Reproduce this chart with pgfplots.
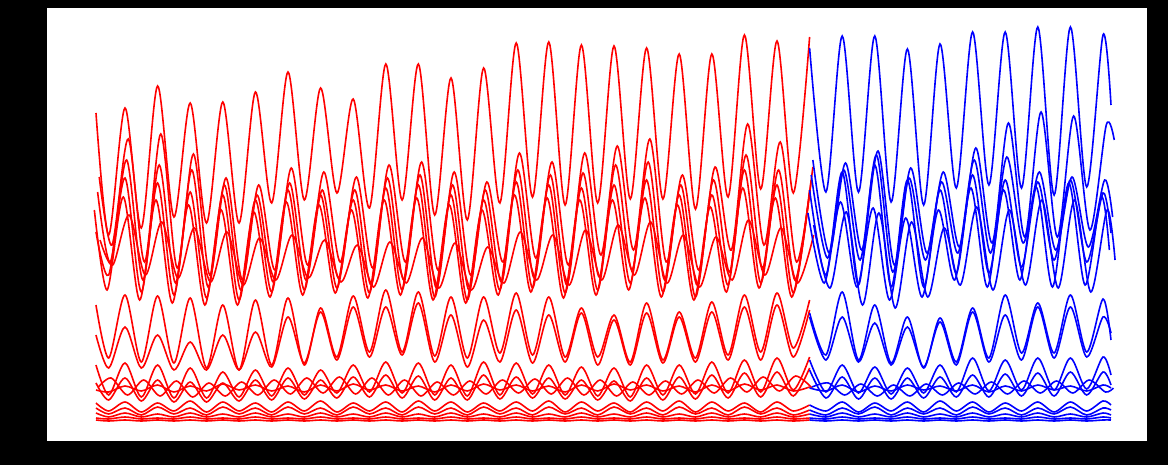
\documentclass[border=0pt]{standalone}
\usepackage{pgfplots}
\usepackage{pgfplotstable}
\pgfplotsset{compat=1.18}
\pgfplotstableread{
t A B C D E F G H I J K L M N O P Q
-0.78 113 177 192 232 210 240 305 335 365 383 387 390 403 408 413 418 420
0 235 245 262 275 290 265 358 368 395 400 378 392 411 414 417 419 421
1 108 139 160 178 197 215 295 327 363 378 395 386 402 408 413 417 420
2 228 262 280 292 300 275 362 368 397 401 380 391 412 415 417 419 421
3 86 134 165 183 200 222 296 335 365 380 396 385 403 407 414 418 420
4 217 268 283 295 303 278 363 370 398 402 381 392 411 414 417 419 421
5 103 154 170 192 205 228 298 342 368 382 397 386 401 408 413 417 420
6 223 275 287 298 305 282 368 370 398 402 383 391 412 415 417 419 421
7 102 178 185 195 210 232 305 335 372 383 396 384 402 407 414 418 420
8 223 280 290 300 305 285 370 370 397 401 382 390 411 414 417 419 421
9 92 185 195 200 212 238 300 332 370 380 395 385 403 408 413 417 420
10 203 270 282 292 297 280 365 367 396 400 380 391 412 415 417 419 421
11 72 168 183 190 202 235 298 317 368 378 394 386 402 407 414 418 420
12 200 265 280 290 295 278 365 363 395 399 378 392 411 414 417 419 421
13 88 172 190 195 205 240 308 312 370 380 393 385 401 408 413 417 420
14 193 262 278 288 293 282 357 360 393 398 377 391 412 415 417 419 421
15 99 177 190 200 210 245 296 307 365 377 394 384 403 407 414 418 420
16 208 268 285 293 298 287 352 357 392 397 378 390 411 414 417 419 421
17 64 165 178 188 200 242 290 307 362 375 395 385 402 408 413 417 420
18 200 262 280 290 295 283 352 355 393 398 380 391 412 415 417 419 421
19 64 162 175 185 198 238 292 303 363 376 396 386 401 407 414 418 420
20 215 270 288 297 300 288 356 362 395 400 382 392 411 414 417 419 421
21 78 172 185 195 205 243 297 315 365 378 395 385 402 408 413 417 420
22 220 275 290 300 303 290 358 367 396 400 381 391 412 415 417 419 421
23 68 182 190 200 210 247 297 320 362 375 394 384 403 407 414 418 420
24 203 262 282 290 295 283 353 362 395 399 380 390 411 414 417 419 421
25 43 153 170 182 195 232 293 310 363 377 393 385 402 408 413 417 420
26 197 258 278 288 292 280 355 363 394 398 379 391 411 415 417 419 421
27 42 162 175 185 198 235 297 315 365 378 394 386 401 407 414 418 420
28 205 265 285 293 298 285 357 362 395 399 378 392 412 414 417 419 421
29 45 153 173 188 200 230 308 313 367 380 395 385 402 408 413 417 420
30 203 255 277 290 295 280 357 365 396 400 380 391 411 415 417 419 421
31 46 146 165 185 200 225 315 320 368 381 396 384 403 407 414 418 420
32 199 250 270 283 290 275 362 365 397 401 382 390 412 414 417 419 421
33 48 139 162 180 198 222 303 313 365 378 395 385 402 408 413 417 420
34 199 262 280 292 297 283 360 363 395 400 381 391 411 415 417 419 421
35 54 175 185 195 205 235 312 317 365 377 394 386 401 407 414 418 420
36 209 270 285 297 300 287 358 362 394 399 380 392 412 414 417 419 421
37 54 167 180 195 207 237 302 312 362 375 393 385 402 408 413 417 420
38 197 250 272 285 292 280 355 360 393 398 378 391 411 415 417 419 421
39 35 124 155 170 188 220 295 307 360 373 392 384 403 407 414 418 420
40 189 245 268 283 288 275 352 360 392 397 377 390 412 414 417 419 421
41 41 142 170 185 198 228 293 305 358 372 391 385 402 408 413 417 420
42 193 262 280 293 297 283 348 357 390 396 376 391 411 415 417 419 421
43 37 167 180 190 205 235 300 310 357 368 388 387 405 410 414 418 420
}\redtab
\pgfplotstableread{
t A B C D E F G H I J K L M N O P Q
43 48 160 175 190 213 225 313 317 360 370 387 388 405 410 414 418 420
44 192 253 258 275 283 288 355 360 392 398 383 391 411 415 417 419 421
45 36 163 170 172 202 212 292 317 365 377 395 385 402 408 413 417 420
46 192 250 260 285 287 305 360 362 393 399 384 392 412 414 417 419 421
47 36 151 155 165 208 213 305 323 367 378 396 386 403 407 414 418 420
48 202 265 272 287 300 308 363 365 394 399 385 391 411 415 417 419 421
49 49 168 178 180 218 222 317 327 368 378 396 385 402 408 413 417 420
50 205 253 260 287 297 297 368 367 393 398 384 390 412 414 417 419 421
51 44 172 182 190 210 228 318 322 365 377 395 386 401 408 414 418 420
52 188 247 253 273 280 285 362 365 392 397 383 391 411 415 417 419 421
53 32 148 160 175 188 207 308 312 358 375 394 385 402 407 413 417 420
54 185 243 253 273 287 290 358 362 391 397 382 392 412 414 417 419 421
55 32 123 157 180 190 210 295 315 360 374 394 386 403 408 414 418 420
56 188 237 243 267 280 285 353 360 390 396 381 391 411 415 417 419 421
57 27 112 172 182 187 200 303 307 358 373 393 385 402 408 413 417 420
58 195 237 250 260 287 288 353 358 390 396 381 390 412 414 417 419 421
59 27 116 177 180 183 200 295 307 358 372 393 386 402 407 414 418 420
60 187 230 247 262 285 292 352 357 389 395 380 391 411 415 417 419 421
61 35 125 180 193 197 210 299 317 357 372 392 385 401 408 413 417 420
61.49 105 140 217 233 250 260 340 333 375 385 388 388 405 410 415 418 420
}\bluetab
\begin{document}
\begin{tikzpicture}
\fill[black] (0,0) rectangle (584pt,232.5pt);
\fill[white] (23.5pt,12pt) rectangle (573.5pt,228.5pt);
\begin{axis}[at={(23.5pt,12pt)}, anchor=south west, scale only axis,
  width=550pt, height=216.5pt, hide axis,
  xmin=-3.785, xmax=63.70, ymin=8, ymax=441, y dir=reverse,
  every axis plot/.append style={smooth, line width=0.8pt, no markers}]
\pgfplotsinvokeforeach{Q,P,O,N,M,L,J,I,H,G,D,A}{
  \addplot[red] table[x=t,y=#1]{\redtab};
}
\addplot[red] table[x expr=\thisrow{t}+0.2,y=B]{\redtab};
\addplot[red] table[x expr=\thisrow{t}+0.1,y=C]{\redtab};
\addplot[red] table[x expr=\thisrow{t}-0.1,y=E]{\redtab};
\addplot[red] table[x expr=\thisrow{t}+0.25,y=F]{\redtab};
\addplot[red] table[x expr=\thisrow{t}+0.15,y=K]{\redtab};
\pgfplotsinvokeforeach{Q,P,O,N,M,L,J,I,H,G,D,A}{
  \addplot[blue] table[x=t,y=#1]{\bluetab};
}
\addplot[blue] table[x expr=\thisrow{t}+0.2,y=B]{\bluetab};
\addplot[blue] table[x expr=\thisrow{t}+0.1,y=C]{\bluetab};
\addplot[blue] table[x expr=\thisrow{t}-0.1,y=E]{\bluetab};
\addplot[blue] table[x expr=\thisrow{t}+0.25,y=F]{\bluetab};
\addplot[blue] table[x expr=\thisrow{t}+0.15,y=K]{\bluetab};
\end{axis}
\end{tikzpicture}
\end{document}
